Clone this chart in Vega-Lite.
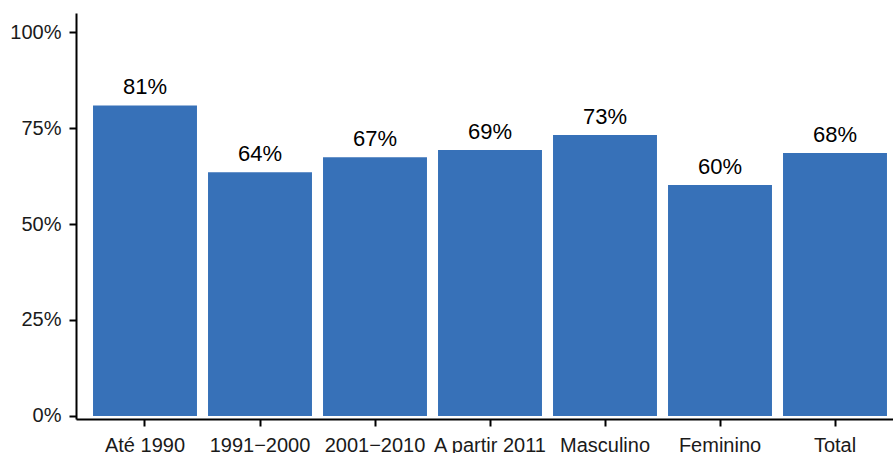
{
  "$schema": "https://vega.github.io/schema/vega-lite/v6.json",
  "autosize": {"type": "none"},
  "padding": {"left": 76, "top": 13, "right": 0, "bottom": 34},
  "width": 828,
  "height": 406,
  "background": "white",
  "config": {
    "view": {"stroke": null},
    "font": "Liberation Sans"
  },
  "data": {
    "values": [
      {"grupo": "Até 1990", "valor": 80.9, "rotulo": "81%"},
      {"grupo": "1991−2000", "valor": 63.5, "rotulo": "64%"},
      {"grupo": "2001−2010", "valor": 67.4, "rotulo": "67%"},
      {"grupo": "A partir 2011", "valor": 69.3, "rotulo": "69%"},
      {"grupo": "Masculino", "valor": 73.2, "rotulo": "73%"},
      {"grupo": "Feminino", "valor": 60.2, "rotulo": "60%"},
      {"grupo": "Total", "valor": 68.5, "rotulo": "68%"}
    ]
  },
  "encoding": {
    "x": {
      "field": "grupo",
      "type": "nominal",
      "sort": null,
      "scale": {"paddingInner": 0.096, "paddingOuter": 0.148},
      "axis": {
        "title": null,
        "labelAngle": 0,
        "labelFontSize": 20,
        "labelColor": "#1a1a1a",
        "labelPadding": 9,
        "domainColor": "black",
        "domainWidth": 2,
        "tickColor": "black",
        "tickWidth": 2,
        "tickSize": 7
      }
    },
    "y": {
      "field": "valor",
      "type": "quantitative",
      "scale": {"domain": [-0.8, 105], "nice": false, "zero": false},
      "axis": {
        "title": null,
        "values": [0, 25, 50, 75, 100],
        "labelExpr": "datum.value + '%'",
        "labelFontSize": 20,
        "labelColor": "#1a1a1a",
        "labelPadding": 8,
        "grid": false,
        "domainColor": "black",
        "domainWidth": 2,
        "tickColor": "black",
        "tickWidth": 2,
        "tickSize": 7
      }
    }
  },
  "layer": [
    {
      "mark": {"type": "bar", "color": "#3771B8", "y2": {"expr": "scale('y', 0)"}}
    },
    {
      "mark": {"type": "text", "baseline": "alphabetic", "dy": -11, "fontSize": 22, "color": "black"},
      "encoding": {"text": {"field": "rotulo"}}
    }
  ]
}
